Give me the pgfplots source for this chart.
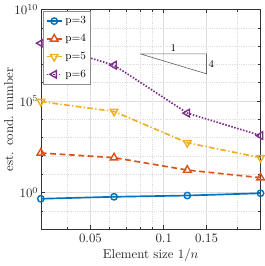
\documentclass[border=0pt]{standalone}
\usepackage{pgfplots}
\pgfplotsset{compat=1.18}
\definecolor{c1}{rgb}{0,0.447,0.741}
\definecolor{c2}{rgb}{0.85,0.325,0.098}
\definecolor{c3}{rgb}{0.929,0.694,0.125}
\definecolor{c4}{rgb}{0.494,0.184,0.556}
\begin{document}
\begin{tikzpicture}
\begin{axis}[
 scale only axis, width=170.8pt, height=170.8pt,
 xmode=log, ymode=log,
 xmin=0.03125, xmax=0.25, ymin=1e-2, ymax=1e10,
 xtick={0.05,0.1,0.15}, xticklabels={0.05,0.1,0.15},
 minor xtick={0.04,0.06,0.07,0.08,0.09,0.2},
 ytick={1,1e5,1e10}, yticklabels={$10^{0}$,$10^{5}$,$10^{10}$},
 minor ytick={1e-2,1e-1,1e1,1e2,1e3,1e4,1e6,1e7,1e8,1e9},
 grid=both,
 major grid style={black!13, line width=0.4pt},
 minor grid style={black!13, line width=0.4pt, densely dotted},
 tick align=inside,
 major tick length=3pt, minor tick length=1.6pt,
 axis line style={black!80, line width=0.5pt},
 every tick/.style={black!80, line width=0.5pt},
 xlabel={Element size $1/n$}, ylabel={est. cond. number},
 tick label style={font=\fontsize{10}{12}\selectfont, black!85},
 yticklabel style={xshift=1.5pt},
 label style={font=\fontsize{10}{12}\selectfont, black!85},
 xlabel style={yshift=2pt},
 ylabel style={yshift=-6pt},
 legend style={at={(rel axis cs:0.012,0.993)}, anchor=north west,
   font=\fontsize{8.5}{9}\selectfont, draw=black!45, fill=white,
   inner xsep=1.5pt, inner ysep=2pt, row sep=2.6pt, line width=0.5pt},
 legend cell align=left,
 legend image code/.code={\draw[mark repeat=2,mark phase=2] plot coordinates {(0cm,0cm) (0.21cm,0cm) (0.42cm,0cm)};},
 every axis plot/.append style={line width=1.3pt},
]
\addplot[c1, solid, mark=o, mark size=2.5pt, mark options={solid, fill=white, line width=1.1pt}]
 coordinates {(0.03125,0.46) (0.0625,0.59) (0.125,0.69) (0.25,0.92)};
\addlegendentry{p=3}
\addplot[c2, dash pattern=on 4.5pt off 2.8pt, mark=triangle, mark size=3.4pt, mark options={solid, fill=white, line width=1.1pt}]
 coordinates {(0.03125,145) (0.0625,81) (0.125,17) (0.25,6.5)};
\addlegendentry{p=4}
\addplot[c3, dash pattern=on 4.5pt off 1.8pt on 1pt off 1.8pt, mark=triangle, mark size=3.4pt, mark options={solid, fill=white, rotate=180, line width=1.1pt}]
 coordinates {(0.03125,9.3e4) (0.0625,2.7e4) (0.125,525) (0.25,81)};
\addlegendentry{p=5}
\addplot[c4, dash pattern=on 1.2pt off 1.2pt, mark=triangle, mark size=3.4pt, mark options={solid, fill=white, rotate=90, line width=1.1pt}]
 coordinates {(0.03125,1.45e8) (0.0625,9.1e6) (0.125,2.2e4) (0.25,1.3e3)};
\addlegendentry{p=6}
\addplot[black!60, line width=0.5pt, forget plot]
 coordinates {(0.08,3.8e7) (0.15,3.8e7) (0.15,3.07e6) (0.08,3.8e7)};
\node[font=\fontsize{8}{9}\selectfont, anchor=south, inner sep=1.5pt] at (axis cs:0.1095,3.8e7) {1};
\node[font=\fontsize{8}{9}\selectfont, anchor=west, inner sep=1.5pt] at (axis cs:0.15,1.08e7) {4};
\path (rel axis cs:1,0) ++(4pt,0) coordinate (r);
\path (r) circle (0pt);
\end{axis}
\end{tikzpicture}
\end{document}
